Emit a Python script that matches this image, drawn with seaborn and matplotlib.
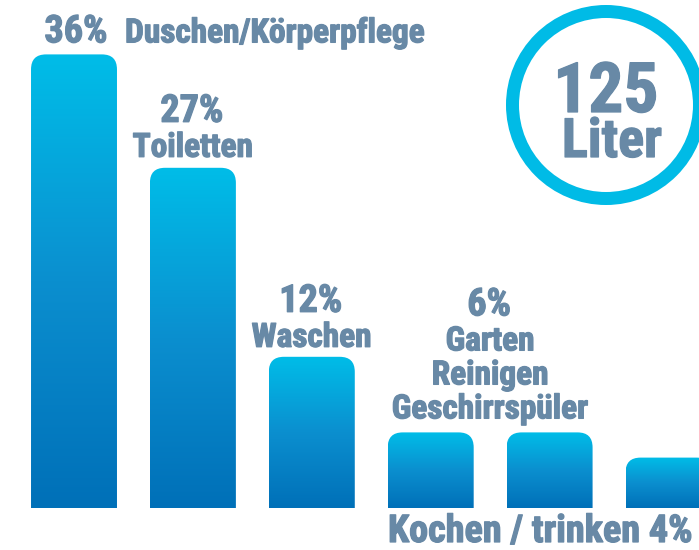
import numpy as np
import pandas as pd
import matplotlib
matplotlib.use('Agg')
import matplotlib.pyplot as plt
import seaborn as sns
from matplotlib.patches import FancyBboxPatch, Circle
from matplotlib.colors import LinearSegmentedColormap
from matplotlib.transforms import IdentityTransform
from matplotlib import font_manager
import matplotlib.patheffects as pe

# data
bars = ['Duschen/Körperpflege', 'Toiletten', 'Waschen', 'Garten, Reinigen', 'Geschirrspüler', 'Kochen / trinken']
shares = [36, 27, 12, 6, 6, 4]
total_liter = 125

sns.set_theme(style='white')
plt.rcParams['font.family'] = ['Roboto Condensed', 'Roboto', 'DejaVu Sans']
txt = '#6889a6'
ring = '#00bbe6'
grad = LinearSegmentedColormap.from_list('water', ['#0070b8', '#0b8fcf', '#00bde8'])

# bold condensed face, picked by file so the variable font is not used
bold_file = [f.fname for f in font_manager.fontManager.ttflist
             if f.fname.endswith('RobotoCondensed-Bold.ttf')]
thick = [pe.withStroke(linewidth=0.9, foreground=txt)]

fig = plt.figure(figsize=(6.99, 5.5), dpi=100)
ax = fig.add_axes([0, 0, 1, 1])
df = pd.DataFrame({'bereich': bars, 'anteil': shares})
sns.barplot(data=df, x='bereich', y='anteil', width=0.723, color='#0096d6', ax=ax)

# pixel geometry: bar centres 74 + i*118.9 px, baseline at 508 px from top
xpx, x0 = 118.9, 74
ypx = 12.6
xlim = (-x0 / xpx, (699 - x0) / xpx)
ylim = (-(550 - 508) / ypx, 508 / ypx)
aspect = xpx / ypx
rad = 15 / xpx

gradient = np.linspace(0, 1, 256).reshape(-1, 1)
for p in list(ax.patches):
    x, w, h = p.get_x(), p.get_width(), p.get_height()
    p.set_visible(False)
    shape = FancyBboxPatch((x, -3), w, h + 3, boxstyle=f'round,pad=0,rounding_size={rad}',
                           mutation_aspect=aspect, facecolor='none', edgecolor='none')
    ax.add_patch(shape)
    im = ax.imshow(gradient, cmap=grad, origin='lower', aspect='auto',
                   extent=[x, x + w, 0, h], zorder=2)
    im.set_clip_path(shape)

ax.set_xlim(*xlim)
ax.set_ylim(*ylim)
ax.axis('off')


def fp(size):
    return font_manager.FontProperties(fname=bold_file[0], size=size)


fs = 24     # category names
fsp = 27.5  # percentages
pt = 0.72   # px -> pt


def lab(s, x, y, dx, dy, ha='center', size=fs):
    ax.annotate(s, (x, y), xytext=(dx * pt, dy * pt), textcoords='offset points',
                ha=ha, va='baseline', color=txt, fontproperties=fp(size), path_effects=thick)


lab(f'{shares[0]}%', 0, shares[0], 2, 12, size=fsp)
lab('Duschen/Körperpflege', 0, shares[0], 51, 12, ha='left')
lab(f'{shares[1]}%', 1, shares[1], -1, 46, size=fsp)
lab('Toiletten', 1, shares[1], 0, 11)
lab(f'{shares[2]}%', 2, shares[2], -1, 45, size=fsp)
lab('Waschen', 2, shares[2], 0, 10)
lab(f'{shares[3]}%', 3.5, shares[3], -1, 117, size=fsp)
for i, s in enumerate(['Garten', 'Reinigen', 'Geschirrspüler']):
    lab(s, 3.5, shares[3], 0, 14 + (2 - i) * 34)
lab(f'Kochen / trinken {shares[5]}%', 5, 0, 25, -34, ha='right', size=fsp)

# total ring (pixel coords, origin bottom-left)
cx, cy = 606, 550 - 105
ax.add_patch(Circle((cx, cy), 93.5, transform=IdentityTransform(), fill=False,
                    edgecolor=ring, linewidth=13 * pt, clip_on=False))
fig.text(cx, 550 - 112, str(total_liter), transform=IdentityTransform(), ha='center',
         va='baseline', color=txt, fontproperties=fp(50), path_effects=thick)
fig.text(cx + 6, 550 - 157, 'Liter', transform=IdentityTransform(), ha='center',
         va='baseline', color=txt, fontproperties=fp(39), path_effects=thick)

fig.savefig('out.png', dpi=100)
